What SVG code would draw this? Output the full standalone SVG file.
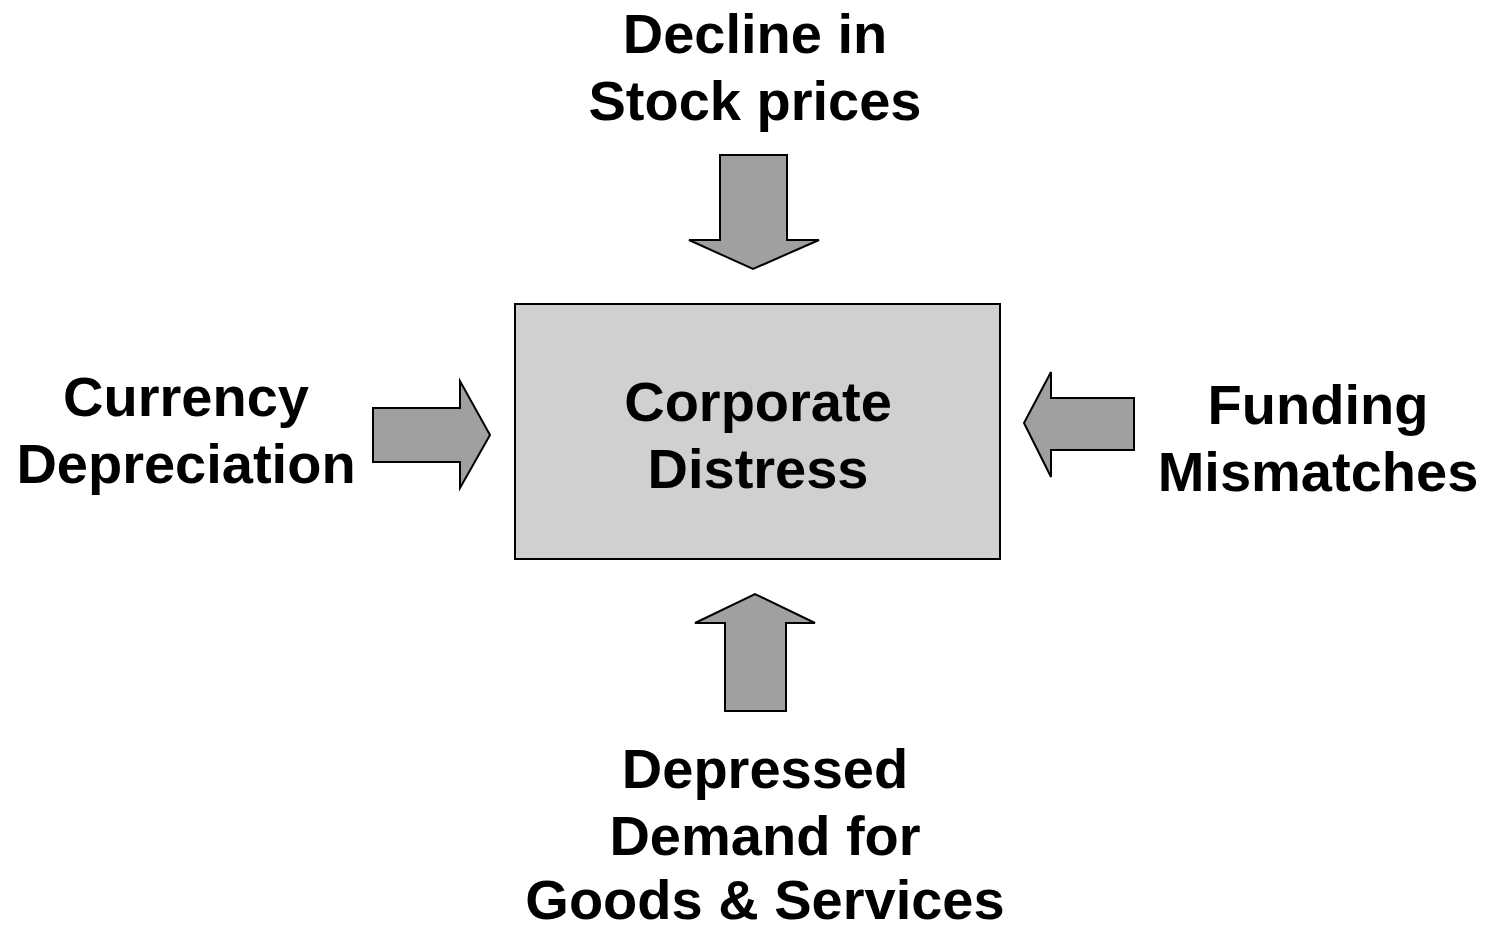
<svg xmlns="http://www.w3.org/2000/svg" width="1490" height="927" viewBox="0 0 1490 927">
<style>
.t{font-family:"Liberation Sans",Arial,sans-serif;font-weight:bold;font-size:56px;fill:#000;text-anchor:middle}
.a{fill:#a0a0a0;stroke:#000;stroke-width:2;stroke-linejoin:miter}
</style>
<rect width="1490" height="927" fill="#fff"/>
<g id="center">
<rect x="515" y="304" width="485" height="255" fill="#d0d0d0" stroke="#000" stroke-width="2"/>
<text class="t" x="758" y="421">Corporate</text>
<text class="t" x="758" y="488">Distress</text>
</g>
<g id="top">
<text class="t" x="755" y="53">Decline in</text>
<text class="t" x="755" y="120">Stock prices</text>
</g>
<g id="left">
<text class="t" x="186" y="416">Currency</text>
<text class="t" x="186" y="483">Depreciation</text>
</g>
<g id="right">
<text class="t" x="1318" y="424">Funding</text>
<text class="t" x="1318" y="491">Mismatches</text>
</g>
<g id="bottom">
<text class="t" x="765" y="788">Depressed</text>
<text class="t" x="765" y="855">Demand for</text>
<text class="t" x="765" y="919">Goods &amp; Services</text>
</g>
<g id="connectors">
<polygon class="a" points="720,155 787,155 787,240 819,240 753,269 689,240 720,240"/>
<polygon class="a" points="373,408 460,408 460,381 490,435 460,488 460,462 373,462"/>
<polygon class="a" points="1134,398 1051,398 1051,372 1024,423 1051,477 1051,450 1134,450"/>
<polygon class="a" points="725,711 786,711 786,623 815,623 755,594 695,623 725,623"/>
</g>
</svg>
